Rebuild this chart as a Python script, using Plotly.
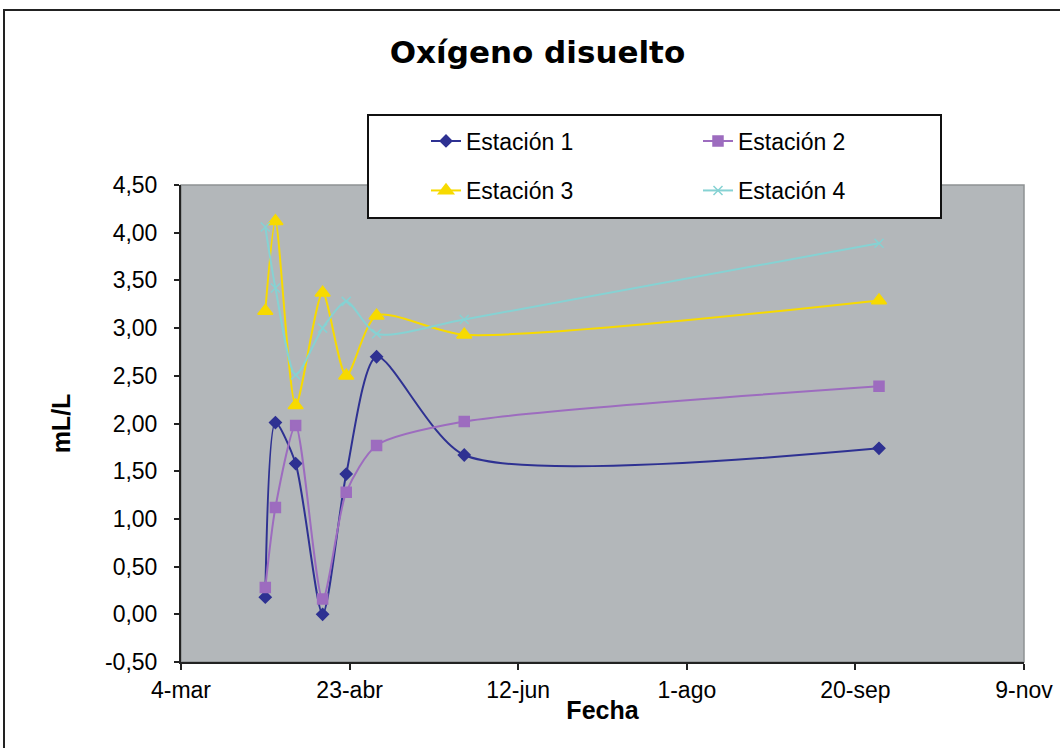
import plotly.graph_objects as go

# ---------------- data ----------------
fechas = ["2007-03-29", "2007-04-01", "2007-04-07", "2007-04-15",
          "2007-04-22", "2007-05-01", "2007-05-27", "2007-09-27"]
estacion_1 = [0.18, 2.01, 1.58, 0.00, 1.47, 2.70, 1.67, 1.74]
estacion_2 = [0.28, 1.12, 1.98, 0.16, 1.28, 1.77, 2.02, 2.39]
estacion_3 = [3.18, 4.12, 2.19, 3.37, 2.50, 3.13, 2.93, 3.29]
estacion_4 = [4.06, 3.42, 2.51, 3.00, 3.28, 2.94, 3.09, 3.89]

x_tick_vals = ["2007-03-04", "2007-04-23", "2007-06-12", "2007-08-01", "2007-09-20", "2007-11-09"]
x_tick_text = ["4-mar", "23-abr", "12-jun", "1-ago", "20-sep", "9-nov"]
y_tick_vals = [-0.5, 0.0, 0.5, 1.0, 1.5, 2.0, 2.5, 3.0, 3.5, 4.0, 4.5]
y_tick_text = ["-0,50", "0,00", "0,50", "1,00", "1,50", "2,00", "2,50", "3,00", "3,50", "4,00", "4,50"]

series = [
    ("Estación 1", estacion_1, "#2E3192", "diamond", 9, "legend"),
    ("Estación 2", estacion_2, "#9D6CBF", "square", 10, "legend2"),
    ("Estación 3", estacion_3, "#F7DA00", "triangle-up", 13, "legend3"),
    ("Estación 4", estacion_4, "#86D2D3", "x-thin", 9, "legend4"),
]

# ---------------- layout geometry (pixels) ----------------
W, H = 1060, 748
L, R, T, B = 181, 36, 185, 86
PW, PH = W - L - R, H - T - B


def px(xp):
    return (xp - L) / PW


def py(yp):
    return (H - B - yp) / PH


fig = go.Figure()
for name, vals, color, sym, size, leg in series:
    fig.add_trace(go.Scatter(
        x=fechas, y=vals, name=name, mode="lines+markers",
        line=dict(color=color, width=2, shape="spline", smoothing=0.7),
        marker=dict(symbol=sym, size=size, color=color,
                    line=dict(color=color, width=1.5)),
        legend=leg, showlegend=True,
    ))

font_main = "Arial, Liberation Sans, sans-serif"

legend_common = dict(
    orientation="h", bgcolor="rgba(0,0,0,0)", borderwidth=0,
    font=dict(family=font_main, size=23, color="black"),
    xanchor="left", yanchor="middle", itemwidth=30,
    xref="paper", yref="paper", visible=True,
)
col_x = [px(426), px(698)]
row_y = [py(141), py(190.5)]

fig.update_layout(
    width=W, height=H,
    margin=dict(l=L, r=R, t=T, b=B, autoexpand=False),
    paper_bgcolor="white",
    plot_bgcolor="#B3B7BA",
    separators=",.",
    showlegend=True,
    title=dict(text="<b>Oxígeno disuelto</b>", x=537.5 / W, xanchor="center",
               y=1 - 52 / H, yanchor="middle", yref="container",
               font=dict(family="DejaVu Sans", size=31, color="black")),
    legend=dict(legend_common, x=col_x[0], y=row_y[0]),
    legend2=dict(legend_common, x=col_x[1], y=row_y[0]),
    legend3=dict(legend_common, x=col_x[0], y=row_y[1]),
    legend4=dict(legend_common, x=col_x[1], y=row_y[1]),
    xaxis=dict(
        type="date", range=["2007-03-04", "2007-11-09"],
        tickvals=x_tick_vals, ticktext=x_tick_text,
        ticks="outside", ticklen=6, tickwidth=2, tickcolor="#222",
        showline=True, linecolor="#222", linewidth=2,
        showgrid=False, zeroline=False,
        tickfont=dict(family=font_main, size=23, color="black"),
        title=dict(text="<b>Fecha</b>", standoff=0,
                   font=dict(family=font_main, size=25, color="black")),
    ),
    yaxis=dict(
        range=[-0.5, 4.5],
        tickvals=y_tick_vals, ticktext=y_tick_text,
        ticks="outside", ticklen=5, tickwidth=2, tickcolor="#222",
        showline=True, linecolor="#222", linewidth=2,
        showgrid=False, zeroline=False,
        ticklabelstandoff=12,
        tickfont=dict(family=font_main, size=23, color="black"),
        title=dict(text="<b>mL/L</b>", standoff=27,
                   font=dict(family=font_main, size=25, color="black")),
    ),
    shapes=[
        # outer chart border
        dict(type="rect", xref="paper", yref="paper",
             x0=px(4), x1=px(1070), y0=py(760), y1=py(10),
             line=dict(color="#222", width=2), fillcolor="rgba(0,0,0,0)", layer="below"),
        # subtle plot-area edge
        dict(type="rect", xref="paper", yref="paper", x0=0, x1=1, y0=0, y1=1,
             line=dict(color="#8E9294", width=1.5), fillcolor="rgba(0,0,0,0)", layer="below"),
        # legend box
        dict(type="rect", xref="paper", yref="paper",
             x0=px(368), x1=px(941), y0=py(218), y1=py(115),
             line=dict(color="#111", width=2), fillcolor="white", layer="above"),
    ],
)

fig.write_html(
    "out.html",
    config={"displayModeBar": False},
    post_script="document.body.style.margin='0';document.body.style.overflow='hidden';",
)
